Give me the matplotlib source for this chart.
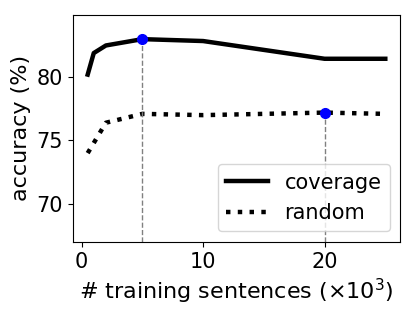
import numpy as np
import matplotlib
matplotlib.use('Agg')
import matplotlib.pyplot as plt

sizes = [0.5, 1, 2, 5, 10, 20, 25]
coverage = [80.2, 81.9, 82.5, 83.0, 82.85, 81.45, 81.45]
random_sel = [74.0, 74.8, 76.4, 77.1, 77.0, 77.2, 77.1]
best_cov = (5, 83.0)
best_rand = (20, 77.2)

fig, ax = plt.subplots(figsize=(4.16, 3.14), dpi=100)
ax.plot(sizes, coverage, color='black', lw=3.2, label='coverage')
ax.plot(sizes, random_sel, color='black', lw=3.2, ls=':', label='random')

ymin = 67
for bx, by in [best_cov, best_rand]:
    ax.plot([bx, bx], [ymin, by], color='gray', ls='--', lw=1)
    ax.plot(bx, by, 'o', color='blue', ms=7)

ax.set_ylim(ymin, 84.9)
ax.set_xticks([0, 10, 20])
ax.set_yticks([70, 75, 80])
ax.tick_params(labelsize=15)
ax.set_xlabel(r'# training sentences ($\times 10^3$)', fontsize=16)
ax.set_ylabel('accuracy (%)', fontsize=16)
ax.legend(loc='lower right', fontsize=15)

plt.subplots_adjust(left=0.175, right=0.962, top=0.952, bottom=0.23)
plt.savefig('out.png', dpi=100)
